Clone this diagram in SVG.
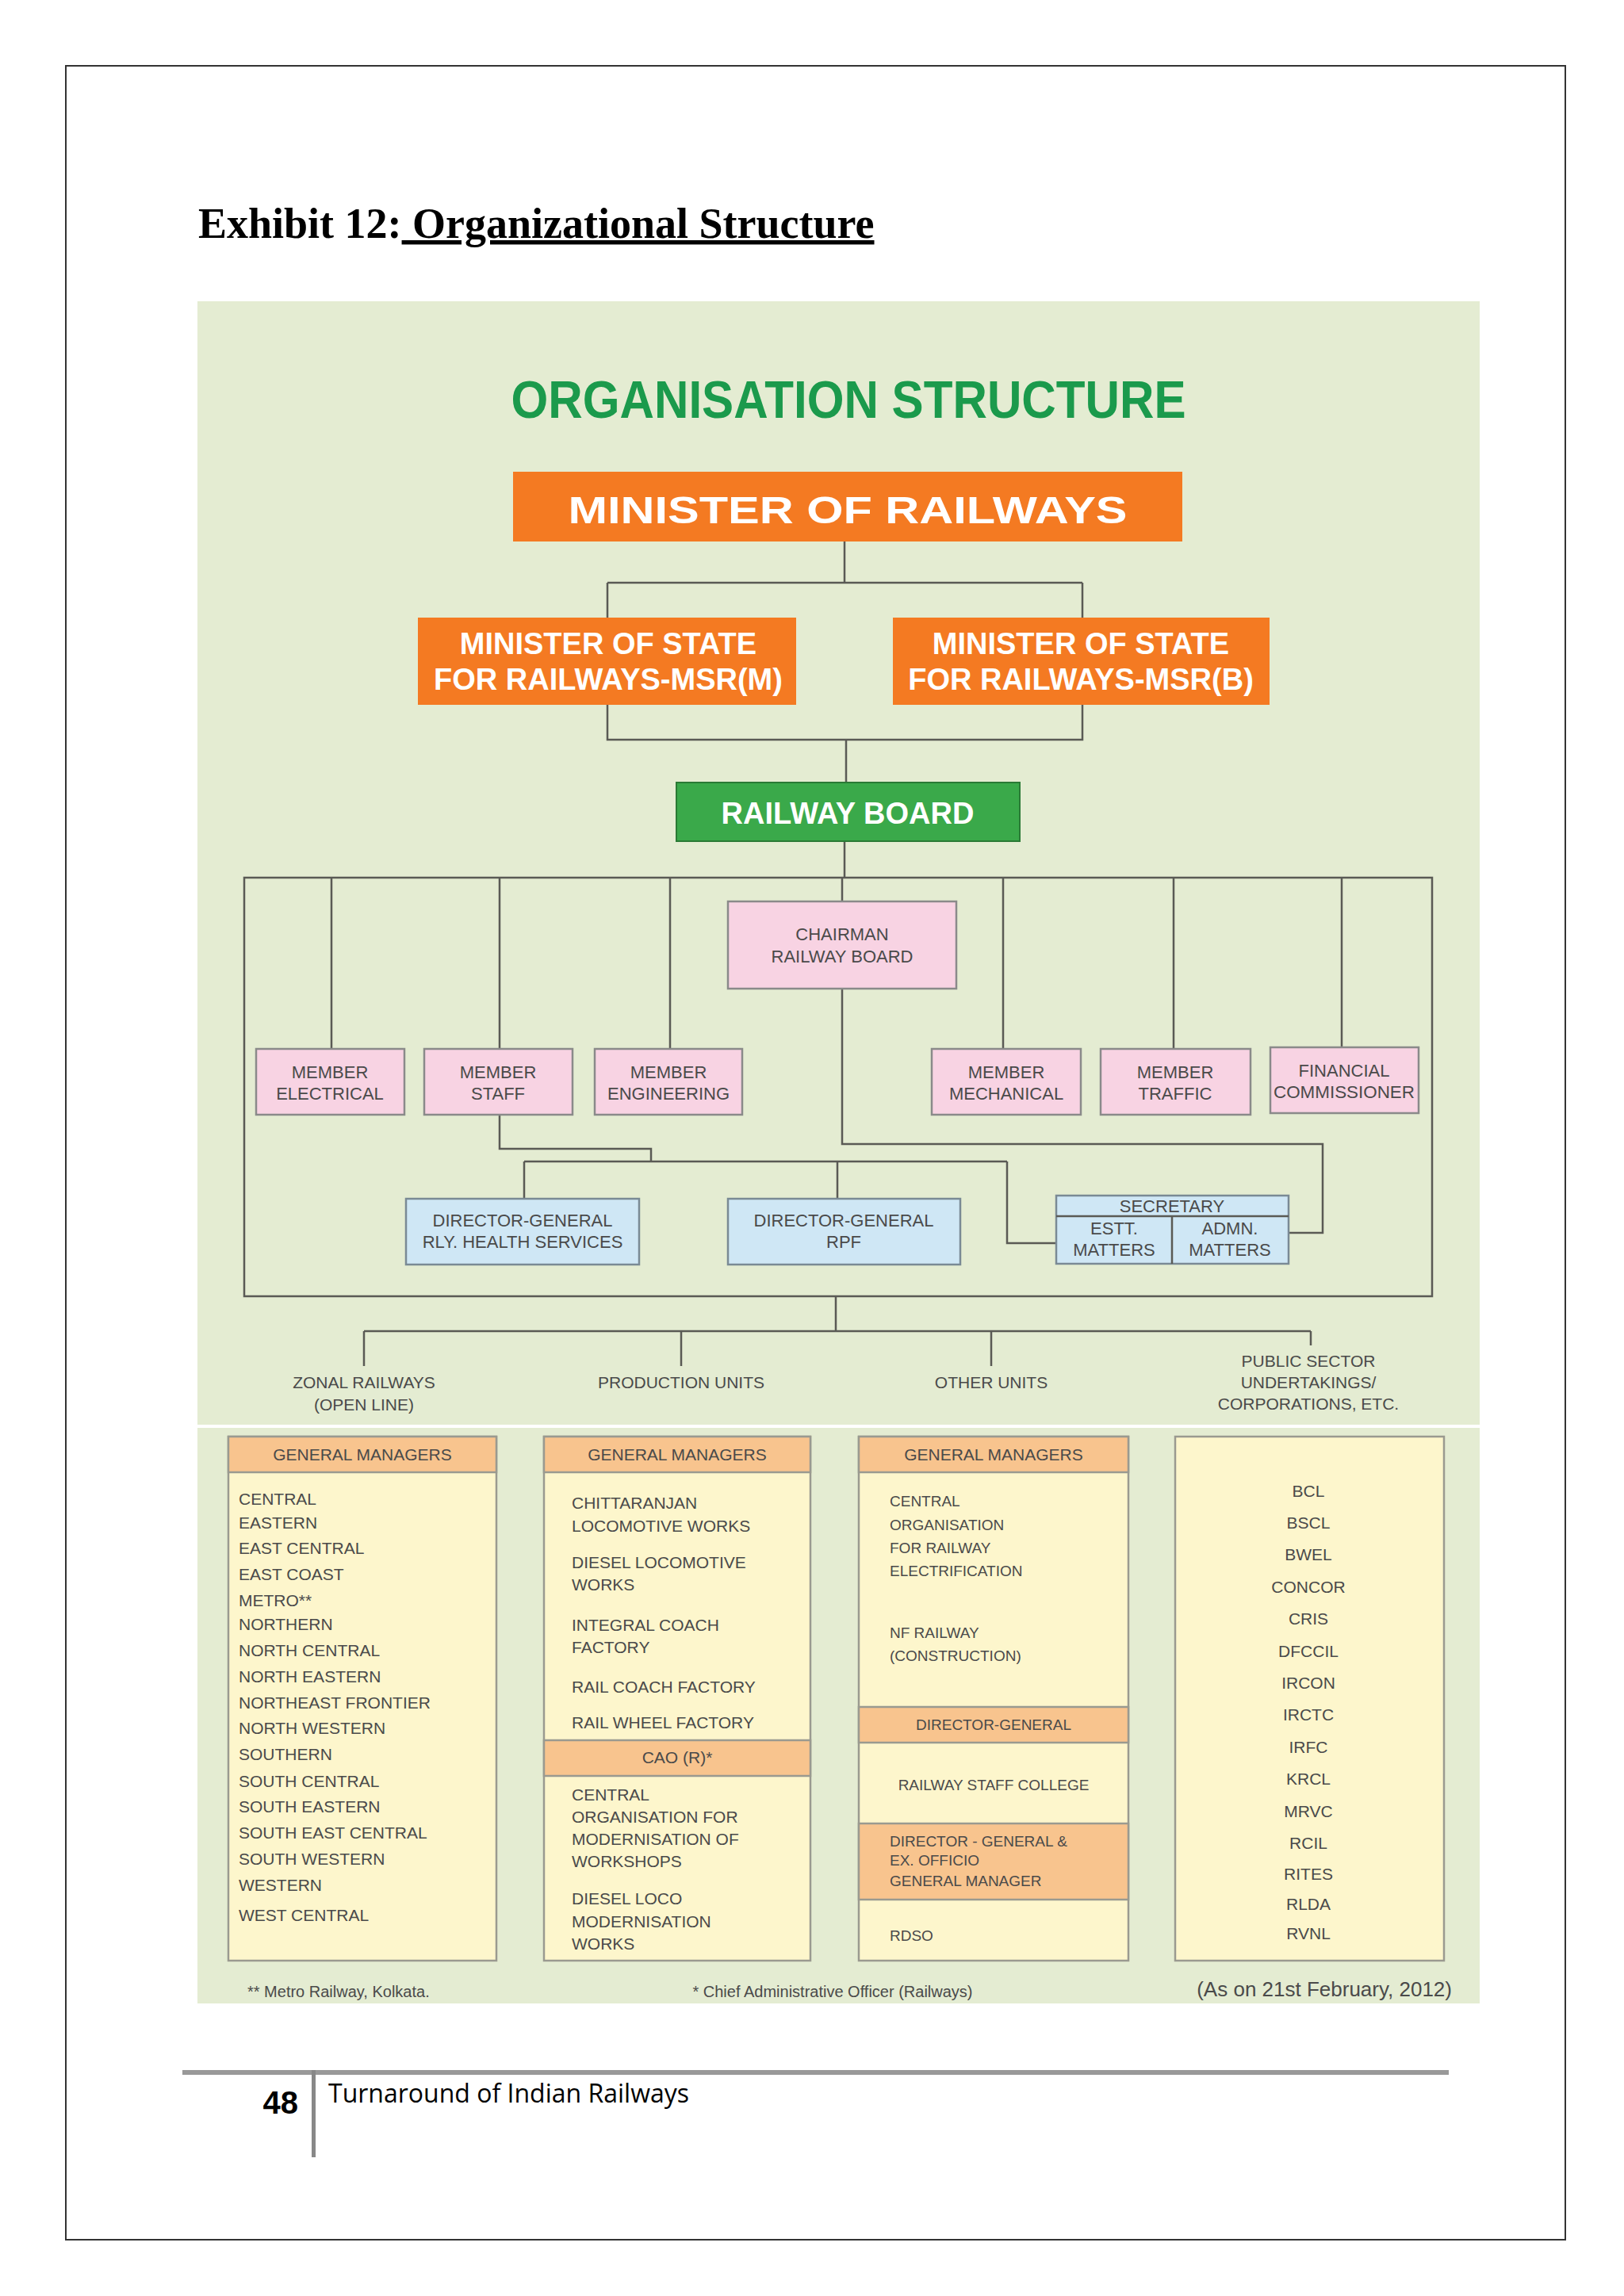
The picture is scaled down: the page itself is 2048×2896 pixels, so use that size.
<svg xmlns="http://www.w3.org/2000/svg" width="2048" height="2896" viewBox="0 0 2048 2896">
<style>
.t{font-family:"Liberation Sans",Arial,sans-serif;fill:#4a4a4a}
.s{font-size:22px}
.c{text-anchor:middle}
.w{fill:#fff;font-weight:bold}
.ln{stroke:#5a5a55;stroke-width:2.5;fill:none}
.pk{fill:#f8d3e3;stroke:#8a8a8a;stroke-width:2.5}
.bl{fill:#cfe7f5;stroke:#7a8a95;stroke-width:2.5}
.cr{fill:#fdf6cc;stroke:#9a9a90;stroke-width:2.5}
.hd{fill:#f8c48e;stroke:#9a9a90;stroke-width:2.5}
</style>
<rect width="2048" height="2896" fill="#fff"/>
<rect x="83" y="83" width="1891" height="2742" fill="none" stroke="#333" stroke-width="2"/>
<text x="250" y="300" font-family="Liberation Serif,serif" font-weight="bold" font-size="54" fill="#000">Exhibit 12:<tspan text-decoration="underline"> Organizational Structure</tspan></text>
<rect x="249" y="380" width="1617" height="2147" fill="#e4ecd2"/>
<rect x="249" y="1797" width="1617" height="4" fill="#fff"/>
<text x="1070" y="527" font-family="Liberation Sans,Arial,sans-serif" text-anchor="middle" font-size="66" font-weight="bold" fill="#1b9a4c" textLength="851" lengthAdjust="spacingAndGlyphs">ORGANISATION  STRUCTURE</text>

<g id="connectors" class="ln">
<path d="M1065 683V735M766 735H1365M766 735V779M1365 735V779"/>
<path d="M766 889V933H1365V889M1067 933V987"/>
<path d="M1065 1061V1107M308 1107H1806V1635H308ZM418 1107V1323M630 1107V1323M845 1107V1323M1062 1107V1137M1265 1107V1323M1480 1107V1323M1692 1107V1323"/>
<path d="M1062 1247V1443H1668V1555H1625"/>
<path d="M630 1406V1449H821V1465M661 1465H1270M661 1465V1512M1056 1465V1512M1270 1465V1568H1332"/>
<path d="M1054 1635V1679M459 1679H1653M459 1679V1723M859 1679V1723M1250 1679V1723M1653 1679V1697"/>
</g>

<g id="minister"><rect x="647" y="595" width="844" height="88" fill="#f47a22"/><text x="1069" y="660" class="t c w" font-size="48" textLength="705" lengthAdjust="spacingAndGlyphs">MINISTER OF RAILWAYS</text></g>
<g id="msrm"><rect x="527" y="779" width="477" height="110" fill="#f47a22"/><text x="767" y="825" class="t c w" font-size="38">MINISTER OF STATE</text><text x="767" y="870" class="t c w" font-size="38">FOR RAILWAYS-MSR(M)</text></g>
<g id="msrb"><rect x="1126" y="779" width="475" height="110" fill="#f47a22"/><text x="1363" y="825" class="t c w" font-size="38">MINISTER OF STATE</text><text x="1363" y="870" class="t c w" font-size="38">FOR RAILWAYS-MSR(B)</text></g>
<g id="board"><rect x="853" y="987" width="433" height="74" fill="#3aa94a" stroke="#2a7a35" stroke-width="2"/><text x="1069" y="1039" class="t c w" font-size="38">RAILWAY BOARD</text></g>

<g id="chairman"><rect x="918" y="1137" width="288" height="110" class="pk"/><text x="1062" y="1186" class="t s c">CHAIRMAN</text><text x="1062" y="1214" class="t s c">RAILWAY BOARD</text></g>
<g id="m-elec"><rect x="323" y="1323" width="187" height="83" class="pk"/><text x="416" y="1360" class="t s c">MEMBER</text><text x="416" y="1387" class="t s c">ELECTRICAL</text></g>
<g id="m-staff"><rect x="535" y="1323" width="187" height="83" class="pk"/><text x="628" y="1360" class="t s c">MEMBER</text><text x="628" y="1387" class="t s c">STAFF</text></g>
<g id="m-eng"><rect x="750" y="1323" width="186" height="83" class="pk"/><text x="843" y="1360" class="t s c">MEMBER</text><text x="843" y="1387" class="t s c">ENGINEERING</text></g>
<g id="m-mech"><rect x="1175" y="1323" width="188" height="83" class="pk"/><text x="1269" y="1360" class="t s c">MEMBER</text><text x="1269" y="1387" class="t s c">MECHANICAL</text></g>
<g id="m-traffic"><rect x="1388" y="1323" width="189" height="83" class="pk"/><text x="1482" y="1360" class="t s c">MEMBER</text><text x="1482" y="1387" class="t s c">TRAFFIC</text></g>
<g id="fin"><rect x="1602" y="1321" width="187" height="83" class="pk"/><text x="1695" y="1358" class="t s c">FINANCIAL</text><text x="1695" y="1385" class="t s c" textLength="178" lengthAdjust="spacingAndGlyphs">COMMISSIONER</text></g>

<g id="dg-health"><rect x="512" y="1512" width="294" height="83" class="bl"/><text x="659" y="1547" class="t s c">DIRECTOR-GENERAL</text><text x="659" y="1574" class="t s c">RLY. HEALTH SERVICES</text></g>
<g id="dg-rpf"><rect x="918" y="1512" width="293" height="83" class="bl"/><text x="1064" y="1547" class="t s c">DIRECTOR-GENERAL</text><text x="1064" y="1574" class="t s c">RPF</text></g>
<g id="secretary"><rect x="1332" y="1508" width="293" height="86" class="bl"/><path d="M1332 1534H1625M1478 1534V1594" class="ln"/><text x="1478" y="1529" class="t s c">SECRETARY</text><text x="1405" y="1557" class="t s c">ESTT.</text><text x="1405" y="1584" class="t s c">MATTERS</text><text x="1551" y="1557" class="t s c">ADMN.</text><text x="1551" y="1584" class="t s c">MATTERS</text></g>

<g id="labels" class="t" font-size="21">
<text x="459" y="1751" class="c">ZONAL RAILWAYS</text><text x="459" y="1779" class="c">(OPEN LINE)</text>
<text x="859" y="1751" class="c">PRODUCTION UNITS</text>
<text x="1250" y="1751" class="c">OTHER UNITS</text>
<text x="1650" y="1724" class="c">PUBLIC SECTOR</text><text x="1650" y="1751" class="c">UNDERTAKINGS/</text><text x="1650" y="1778" class="c">CORPORATIONS, ETC.</text>
</g>

<g id="zonal" class="t" font-size="21">
<rect x="288" y="1812" width="338" height="661" class="cr"/><rect x="288" y="1812" width="338" height="45" class="hd"/>
<text x="457" y="1842" class="c">GENERAL MANAGERS</text>
<text x="301" y="1898">CENTRAL</text><text x="301" y="1928">EASTERN</text><text x="301" y="1960">EAST CENTRAL</text><text x="301" y="1993">EAST COAST</text><text x="301" y="2026">METRO**</text><text x="301" y="2056">NORTHERN</text><text x="301" y="2089">NORTH CENTRAL</text><text x="301" y="2122">NORTH EASTERN</text><text x="301" y="2155">NORTHEAST FRONTIER</text><text x="301" y="2187">NORTH WESTERN</text><text x="301" y="2220">SOUTHERN</text><text x="301" y="2254">SOUTH CENTRAL</text><text x="301" y="2286">SOUTH EASTERN</text><text x="301" y="2319">SOUTH EAST CENTRAL</text><text x="301" y="2352">SOUTH WESTERN</text><text x="301" y="2385">WESTERN</text><text x="301" y="2423">WEST CENTRAL</text>
</g>
<g id="production" class="t" font-size="21">
<rect x="686" y="1812" width="336" height="661" class="cr"/><rect x="686" y="1812" width="336" height="45" class="hd"/><rect x="686" y="2195" width="336" height="45" class="hd"/>
<text x="854" y="1842" class="c">GENERAL MANAGERS</text>
<text x="721" y="1903">CHITTARANJAN</text><text x="721" y="1932">LOCOMOTIVE WORKS</text><text x="721" y="1978">DIESEL LOCOMOTIVE</text><text x="721" y="2006">WORKS</text><text x="721" y="2057">INTEGRAL COACH</text><text x="721" y="2085">FACTORY</text><text x="721" y="2135">RAIL COACH FACTORY</text><text x="721" y="2180">RAIL WHEEL FACTORY</text>
<text x="854" y="2224" class="c">CAO (R)*</text>
<text x="721" y="2271">CENTRAL</text><text x="721" y="2299">ORGANISATION FOR</text><text x="721" y="2327">MODERNISATION OF</text><text x="721" y="2355">WORKSHOPS</text><text x="721" y="2402">DIESEL LOCO</text><text x="721" y="2431">MODERNISATION</text><text x="721" y="2459">WORKS</text>
</g>
<g id="other" class="t" font-size="19">
<rect x="1083" y="1812" width="340" height="661" class="cr"/><rect x="1083" y="1812" width="340" height="45" class="hd"/><rect x="1083" y="2153" width="340" height="45" class="hd"/><rect x="1083" y="2300" width="340" height="96" class="hd"/>
<text x="1253" y="1842" class="c" font-size="21">GENERAL MANAGERS</text>
<text x="1122" y="1900">CENTRAL</text><text x="1122" y="1930">ORGANISATION</text><text x="1122" y="1959">FOR RAILWAY</text><text x="1122" y="1988">ELECTRIFICATION</text><text x="1122" y="2066">NF RAILWAY</text><text x="1122" y="2095">(CONSTRUCTION)</text>
<text x="1253" y="2182" class="c">DIRECTOR-GENERAL</text>
<text x="1253" y="2258" class="c">RAILWAY STAFF COLLEGE</text>
<text x="1122" y="2329">DIRECTOR - GENERAL &amp;</text><text x="1122" y="2353">EX. OFFICIO</text><text x="1122" y="2379">GENERAL MANAGER</text>
<text x="1122" y="2448">RDSO</text>
</g>
<g id="psu" class="t c" font-size="21">
<rect x="1482" y="1812" width="339" height="661" class="cr"/>
<text x="1650" y="1888">BCL</text><text x="1650" y="1928">BSCL</text><text x="1650" y="1968">BWEL</text><text x="1650" y="2009">CONCOR</text><text x="1650" y="2049">CRIS</text><text x="1650" y="2090">DFCCIL</text><text x="1650" y="2130">IRCON</text><text x="1650" y="2170">IRCTC</text><text x="1650" y="2211">IRFC</text><text x="1650" y="2251">KRCL</text><text x="1650" y="2292">MRVC</text><text x="1650" y="2332">RCIL</text><text x="1650" y="2371">RITES</text><text x="1650" y="2409">RLDA</text><text x="1650" y="2446">RVNL</text>
</g>
<g id="notes" class="t" font-size="20">
<text x="312" y="2519">** Metro Railway, Kolkata.</text>
<text x="1050" y="2519" class="c">* Chief Administrative Officer (Railways)</text>
<text x="1831" y="2518" font-size="26" text-anchor="end">(As on 21st February, 2012)</text>
</g>
<g id="footer">
<rect x="230" y="2611" width="1597" height="6" fill="#999"/>
<rect x="393" y="2611" width="5" height="110" fill="#888"/>
<text x="376" y="2666" font-family="Liberation Sans,sans-serif" font-weight="bold" font-size="40" text-anchor="end" fill="#000">48</text>
<text x="414" y="2652" font-family="Open Sans,sans-serif" font-size="32" fill="#000">Turnaround of Indian Railways</text>
</g>
</svg>
